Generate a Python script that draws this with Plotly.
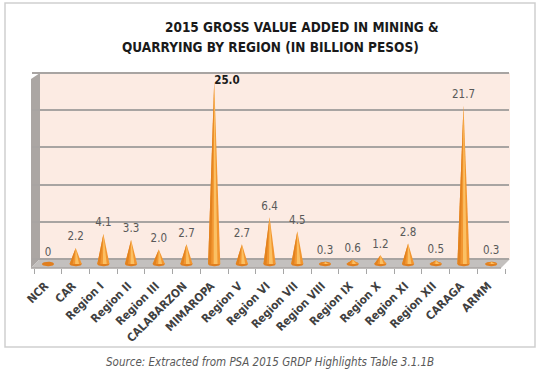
import numpy as np
import plotly.graph_objects as go

# ---- data ----
regions = ["NCR", "CAR", "Region I", "Region II", "Region III", "CALABARZON",
           "MIMAROPA", "Region V", "Region VI", "Region VII", "Region VIII",
           "Region IX", "Region X", "Region XI", "Region XII", "CARAGA", "ARMM"]
gva = [0.0, 2.2, 4.1, 3.3, 2.0, 2.7, 25.0, 2.7, 6.4, 4.5, 0.3, 0.6, 1.2, 2.8, 0.5, 21.7, 0.3]
value_labels = ["0", "2.2", "4.1", "3.3", "2.0", "2.7", "25.0", "2.7", "6.4", "4.5",
                "0.3", "0.6", "1.2", "2.8", "0.5", "21.7", "0.3"]
title_lines = ["2015 GROSS VALUE ADDED IN MINING &",
               "QUARRYING BY REGION (IN BILLION PESOS)"]
source_text = "Source: Extracted from PSA 2015 GRDP Highlights Table 3.1.1B"

W, H = 540, 371
L, R, T, B = 32, 31, 60, 103
PW, PH = W - L - R, H - T - B

def xp(px):
    return (px - L) / PW

def yp(py):
    return (H - B - py) / PH

CAT_PX = 27.7
X0_PX = 48
xr = [(L - X0_PX) / CAT_PX, (W - R - X0_PX) / CAT_PX]
# cone axis: 0 at 264 px, 7.3 px per unit
yr = [(264 - (H - B)) / 7.3, (264 - T) / 7.3]
# back wall axis: 0 at 259 px, 7.44 px per unit
yr2 = [(259 - (H - B)) / 7.44, (259 - T) / 7.44]

FONT = "DejaVu Sans Condensed, Liberation Sans Narrow, Arial Narrow, sans-serif"

fig = go.Figure()

half = 0.22
t = np.linspace(0, 2 * np.pi, 40)
for i, v in enumerate(gva):
    # base ellipse
    fig.add_trace(go.Scatter(x=list(i + half * np.cos(t)), y=list(0.32 * np.sin(t)),
                             mode="lines", fill="toself", fillcolor="#E07E1E",
                             line=dict(width=0), hoverinfo="skip", showlegend=False))
    if v > 0:
        fig.add_trace(go.Scatter(x=[i - half, i, i + half, i - half], y=[0, v, 0, 0],
                                 mode="lines", fill="toself", fillcolor="#F29630",
                                 line=dict(width=0), hoverinfo="skip", showlegend=False))
        fig.add_trace(go.Scatter(x=[i - half, i, i - 0.11, i - half], y=[0, v, 0, 0],
                                 mode="lines", fill="toself", fillcolor="#E2821F",
                                 line=dict(width=0), hoverinfo="skip", showlegend=False))
        fig.add_trace(go.Scatter(x=[i - 0.02, i, i + 0.12, i - 0.02], y=[0, v, 0, 0],
                                 mode="lines", fill="toself", fillcolor="#FBC063",
                                 line=dict(width=0), hoverinfo="skip", showlegend=False))

# value labels
norm_idx = [i for i, v in enumerate(gva) if v != max(gva)]
max_idx = [i for i, v in enumerate(gva) if v == max(gva)]
fig.add_trace(go.Scatter(x=norm_idx, y=[gva[i] for i in norm_idx],
                         text=[value_labels[i] for i in norm_idx],
                         mode="markers+text", textposition="top center",
                         marker=dict(size=6, opacity=0),
                         textfont=dict(family=FONT, size=11.5, color="#595959"),
                         hoverinfo="skip", showlegend=False))
fig.add_trace(go.Scatter(x=max_idx, y=[gva[i] for i in max_idx],
                         text=["<b>" + value_labels[i] + "</b>" for i in max_idx],
                         mode="text", textposition="middle right",
                         textfont=dict(family=FONT, size=11.5, color="#1a1a1a"),
                         hoverinfo="skip", showlegend=False))

# dummy trace on wall axis
fig.add_trace(go.Scatter(x=[0], y=[0], yaxis="y2", mode="markers",
                         marker=dict(opacity=0), hoverinfo="skip", showlegend=False))

def path(pts):
    return "M " + " L ".join(f"{xp(a):.5f},{yp(b):.5f}" for a, b in pts) + " Z"

shapes = [
    # outer border
    dict(type="rect", xref="paper", yref="paper", x0=xp(5), x1=xp(535), y0=yp(347), y1=yp(3),
         line=dict(color="#CFCFCF", width=1.5), layer="below"),
    # back wall
    dict(type="rect", xref="paper", yref="paper", x0=xp(40), x1=xp(510), y0=yp(259), y1=yp(73),
         fillcolor="#FCEBE3", line=dict(width=0), layer="below"),
    # side wall
    dict(type="path", xref="paper", yref="paper",
         path=path([(31, 79), (40, 73), (40, 259), (31, 268)]),
         fillcolor="#ABA6A3", line=dict(width=0), layer="between"),
    # floor
    dict(type="path", xref="paper", yref="paper",
         path=path([(31, 268), (501, 268), (510, 259), (40, 259)]),
         fillcolor="#C3C0BE", line=dict(width=0), layer="between"),
    dict(type="line", xref="paper", yref="paper", x0=xp(31), x1=xp(501), y0=yp(268), y1=yp(268),
         line=dict(color="#A9A5A2", width=1.5), layer="between"),
]

annotations = [
    dict(text="<b>" + title_lines[0] + "</b>", xref="paper", yref="paper",
         x=xp(302), y=yp(27), xanchor="center", yanchor="middle", showarrow=False,
         font=dict(family=FONT, size=13.5, color="#1a1a1a")),
    dict(text="<b>" + title_lines[1] + "</b>", xref="paper", yref="paper",
         x=xp(270), y=yp(47), xanchor="center", yanchor="middle", showarrow=False,
         font=dict(family=FONT, size=13.5, color="#1a1a1a")),
    dict(text="<i>" + source_text + "</i>", xref="paper", yref="paper",
         x=xp(270), y=yp(362), xanchor="center", yanchor="middle", showarrow=False,
         font=dict(family=FONT, size=11.5, color="#595959")),
]

fig.update_layout(
    width=W, height=H, margin=dict(l=L, r=R, t=T, b=B, pad=0),
    paper_bgcolor="white", plot_bgcolor="rgba(0,0,0,0)",
    showlegend=False, shapes=shapes, annotations=annotations,
    xaxis=dict(range=xr, tickmode="array", tickvals=list(range(len(regions))),
               ticktext=["<b>" + r + "</b>" for r in regions], tickangle=-45,
               ticks="", showgrid=False, zeroline=False, showline=False,
               ticklabelstandoff=8, ticklabelshift=-3,
               tickfont=dict(family=FONT, size=11.5, color="#404040"),
               minor=dict(tickmode="array", tickvals=[i - 0.5 for i in range(len(regions) + 1)],
                          ticks="outside", ticklen=5, tickcolor="#A6A6A6", showgrid=False),
               fixedrange=True),
    yaxis=dict(range=yr, showgrid=False, zeroline=False, showticklabels=False,
               ticks="", showline=False, fixedrange=True),
    yaxis2=dict(range=yr2, overlaying="y", side="left", showgrid=True, dtick=5, tick0=0,
                gridcolor="#A8A4A2", gridwidth=1.6, zeroline=False, showticklabels=False,
                ticks="", showline=False, fixedrange=True),
)

fig.write_html("out.html", config={"displayModeBar": False},
               post_script="document.body.style.margin='0px';")
